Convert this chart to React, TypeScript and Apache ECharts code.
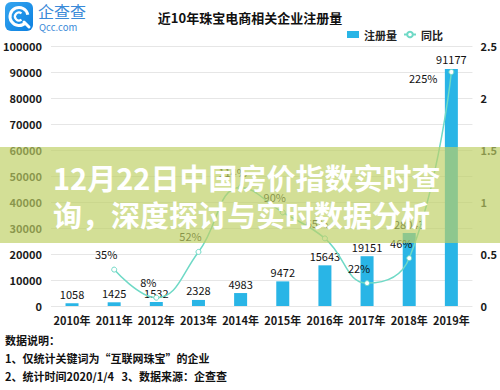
import React, { useEffect, useRef } from 'react';
import * as echarts from 'echarts';

const years = ['2010年', '2011年', '2012年', '2013年', '2014年', '2015年', '2016年', '2017年', '2018年', '2019年'];
const registrations = [1058, 1425, 1532, 2328, 4983, 9472, 15643, 19151, 28043, 91177];
const yoyGrowth = [null, 0.35, 0.08, 0.52, 1.14, 0.9, 0.65, 0.22, 0.46, 2.25];
const seriesNames = ['注册量', '同比'];
const chartTitle = '近10年珠宝电商相关企业注册量';
const notes = ['数据说明：', '1、仅统计关键词为“互联网珠宝”的企业', '2、统计时间2020/1/4   3、数据来源：企查查'];
const overlayLines = ['12月22日中国房价指数实时查', '询，深度探讨与实时数据分析'];
const brandName = '企查查';
const brandSite = 'Qcc.com';

const FONT = '"Noto Sans CJK SC", "Noto Sans", sans-serif';
const BAR = '#29b5e6';
const LINE = '#6fd9c6';

export default function App() {
  const ref = useRef<HTMLDivElement>(null);
  useEffect(() => {
    document.body.style.margin = '0';
    const chart = echarts.init(ref.current!, null, { renderer: 'svg' });
    const axisText = { color: '#1a1a1a', fontSize: 11, fontWeight: 'bold' as const, fontFamily: FONT };
    const lastIdx = yoyGrowth.length - 1;
    chart.setOption({
      animation: false,
      textStyle: { fontFamily: FONT },
      title: {
        text: chartTitle,
        left: 'center',
        top: 6,
        textStyle: { fontSize: 13, fontWeight: 'bold', color: '#111', fontFamily: FONT },
      },
      legend: {
        right: 52,
        top: 24,
        itemWidth: 12,
        itemHeight: 7,
        itemGap: 6,
        textStyle: { fontSize: 11, fontWeight: 'bold', color: '#222', fontFamily: FONT },
        data: [
          { name: seriesNames[0], icon: 'rect' },
          { name: seriesNames[1] },
        ],
      },
      grid: { left: 49, right: 27, top: 46, bottom: 84, containLabel: false },
      xAxis: {
        type: 'category',
        data: years,
        axisLine: { show: false },
        axisTick: { show: false },
        axisLabel: { ...axisText, margin: 8, interval: 0 },
      },
      yAxis: [
        {
          type: 'value',
          min: 0,
          max: 100000,
          interval: 10000,
          axisLine: { show: false },
          axisTick: { show: false },
          axisLabel: { ...axisText, margin: 9, formatter: (v: number) => String(v) },
          splitLine: { lineStyle: { color: '#e6e6e6', width: 1 } },
        },
        {
          type: 'value',
          min: 0,
          max: 2.5,
          interval: 0.5,
          axisLine: { show: false },
          axisTick: { show: false },
          axisLabel: { ...axisText, margin: 8, formatter: (v: number) => String(v) },
          splitLine: { show: false },
        },
      ],
      series: [
        {
          name: seriesNames[0],
          type: 'bar',
          data: registrations,
          barWidth: 13,
          itemStyle: { color: BAR },
          label: {
            show: true,
            position: 'top',
            distance: 4,
            color: '#111',
            fontSize: 11,
            fontFamily: FONT,
          },
        },
        {
          name: seriesNames[1],
          type: 'line',
          yAxisIndex: 1,
          data: yoyGrowth.map((v, i) =>
            i === lastIdx
              ? { value: v, label: { position: 'left', offset: [-6, 6] } }
              : { value: v }
          ),
          smooth: 0.45,
          symbol: 'circle',
          symbolSize: 5,
          showSymbol: true,
          lineStyle: { color: LINE, width: 1.5 },
          itemStyle: { color: '#fff', borderColor: LINE, borderWidth: 1 },
          label: {
            show: true,
            position: 'top',
            offset: [-8, -2],
            color: '#111',
            fontSize: 11,
            fontFamily: FONT,
            formatter: (p: any) => (p.value == null ? '' : Math.round(p.value * 100) + '%'),
          },
          z: 3,
        },
      ],
      graphic: [
        {
          type: 'group',
          left: 5,
          top: 2,
          children: [
            {
              type: 'rect',
              shape: { x: 0, y: 0, width: 28, height: 29, r: 6 },
              style: {
                fill: new echarts.graphic.LinearGradient(0, 0, 1, 1, [
                  { offset: 0, color: '#35a6f0' },
                  { offset: 1, color: '#0c7fe0' },
                ]),
              },
            },
            {
              type: 'arc',
              shape: { cx: 14, cy: 14.5, r: 9, startAngle: 0.75, endAngle: Math.PI * 2 - 0.2 },
              style: { stroke: '#fff', lineWidth: 3, fill: 'none' },
            },
            {
              type: 'arc',
              shape: { cx: 14, cy: 14.5, r: 4, startAngle: 0.9, endAngle: Math.PI * 2 - 0.9 },
              style: { stroke: '#fff', lineWidth: 2.2, fill: 'none' },
            },
            {
              type: 'line',
              shape: { x1: 19, y1: 20, x2: 24, y2: 25 },
              style: { stroke: '#fff', lineWidth: 3, lineCap: 'round' },
            },
          ],
        },
        {
          type: 'text',
          left: 38,
          top: 3,
          style: { text: brandName, fill: '#3a8ad8', font: `normal 16px ${FONT}` },
        },
        {
          type: 'text',
          left: 39,
          top: 22,
          style: { text: brandSite, fill: '#3a8ad8', font: `normal 9.5px ${FONT}` },
        },
        ...notes.map((t, i) => ({
          type: 'text',
          left: 5,
          top: 334 + i * 18,
          style: { text: t, fill: '#111', font: `bold 11px ${FONT}` },
        })),
        {
          type: 'rect',
          left: 0,
          top: 147,
          z: 100,
          shape: { x: 0, y: 0, width: 500, height: 96 },
          style: { fill: 'rgba(190, 208, 100, 0.68)' },
        },
        ...overlayLines.map((t, i) => ({
          type: 'text',
          left: 53,
          top: 162 + i * 37,
          z: 101,
          style: {
            text: t,
            fill: '#ffffff',
            font: `bold 29px ${FONT}`,
          },
        })),
      ],
    });
    return () => chart.dispose();
  }, []);
  return <div ref={ref} style={{ width: 500, height: 390 }} />;
}
